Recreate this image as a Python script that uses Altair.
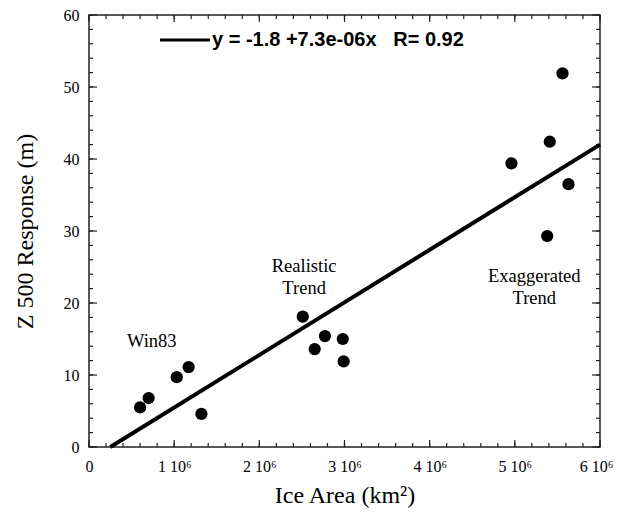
import altair as alt
import pandas as pd

# ---- data ----
ice_area = [0.60e6, 0.70e6, 1.03e6, 1.17e6, 1.32e6, 2.51e6, 2.65e6, 2.77e6,
            2.98e6, 2.99e6, 4.96e6, 5.41e6, 5.56e6, 5.38e6, 5.63e6]
z500 = [5.5, 6.8, 9.7, 11.1, 4.6, 18.1, 13.6, 15.4,
        15.0, 11.9, 39.4, 42.4, 51.9, 29.3, 36.5]

fit_x = [0.25e6, 6.0e6]
fit_y = [0.0, 42.0]

x_label_values = [0, 1000000, 2000000, 3000000, 4000000, 5000000, 6000000]
x_minor_values = list(range(0, 6000001, 200000))
y_label_values = [0, 10, 20, 30, 40, 50, 60]
y_minor_values = list(range(0, 61, 2))

annot_text = ["Win83", "Realistic\nTrend", "Exaggerated\nTrend"]
annot_x = [0.737e6, 2.526e6, 5.228e6]
annot_y = [14.7, 25.1, 23.75]

legend_text = ["y = -1.8 +7.3e-06x\u00a0\u00a0\u00a0R= 0.92"]

# ---- layout ----
W, H = 511, 432
SERIF = "Liberation Serif"
FRAME = "#222"

df_pts = pd.DataFrame({"x": ice_area, "y": z500})
df_fit = pd.DataFrame({"x": fit_x, "y": fit_y})
df_ann = pd.DataFrame({"x": annot_x, "y": annot_y, "t": annot_text})
df_leg = pd.DataFrame({"t": legend_text})
df_xmaj = pd.DataFrame({"v": x_label_values})
df_xmin = pd.DataFrame({"v": x_minor_values})
df_ymaj = pd.DataFrame({"v": y_label_values})
df_ymin = pd.DataFrame({"v": y_minor_values})

xs = alt.Scale(domain=[0, 6000000], nice=False, zero=False)
ys = alt.Scale(domain=[0, 60], nice=False, zero=False)

points = alt.Chart(df_pts).mark_circle(size=150, color="black", opacity=1).encode(
    x=alt.X("x:Q", scale=xs, axis=alt.Axis(
        values=x_label_values, ticks=False, domain=False, grid=False,
        labelExpr="datum.value == 0 ? '0' : format(datum.value / 1000000, 'd') + ' 10⁶'",
        labelFont=SERIF, labelFontSize=16, labelColor="black", labelPadding=11,
        labelFlush=False, labelOverlap=False,
        labelOffset={"condition": {"test": "datum.value == 6000000", "value": -4}, "value": 0},
        title="Ice Area (km²)", titleFont=SERIF, titleFontSize=24,
        titleFontWeight="normal", titleColor="black", titlePadding=9)),
    y=alt.Y("y:Q", scale=ys, axis=alt.Axis(
        values=y_label_values, ticks=False, domain=False, grid=False,
        labelFont=SERIF, labelFontSize=16, labelColor="black", labelPadding=10,
        labelFlush=False, labelOverlap=False,
        title="Z 500 Response (m)", titleFont=SERIF, titleFontSize=24,
        titleFontWeight="normal", titleColor="black", titlePadding=26)),
)

fit = alt.Chart(df_fit).mark_line(color="black", strokeWidth=4).encode(
    x=alt.X("x:Q", scale=xs, axis=None),
    y=alt.Y("y:Q", scale=ys, axis=None),
)

annots = alt.Chart(df_ann).mark_text(
    font=SERIF, fontSize=18.5, lineBreak="\n", lineHeight=22, color="black",
    align="center", baseline="middle").encode(
    x=alt.X("x:Q", scale=xs, axis=None),
    y=alt.Y("y:Q", scale=ys, axis=None),
    text="t:N",
)

leg_line = alt.Chart(df_leg).mark_rule(color="black", strokeWidth=3).encode(
    x=alt.value(71), x2=alt.value(121), y=alt.value(25))

leg_text = alt.Chart(df_leg).mark_text(
    font="Liberation Sans", fontSize=20, fontWeight="bold", color="black",
    align="left", baseline="middle").encode(
    x=alt.value(123), y=alt.value(24.5), text="t:N")


def xticks(df, y0, y1):
    return alt.Chart(df).mark_rule(color=FRAME, strokeWidth=1.2).encode(
        x=alt.X("v:Q", scale=xs, axis=None), y=alt.value(y0), y2=alt.value(y1))


def yticks(df, x0, x1):
    return alt.Chart(df).mark_rule(color=FRAME, strokeWidth=1.2).encode(
        y=alt.Y("v:Q", scale=ys, axis=None), x=alt.value(x0), x2=alt.value(x1))


tick_layers = [
    xticks(df_xmin, H, H - 4), xticks(df_xmaj, H, H - 7),
    xticks(df_xmin, 0, 4), xticks(df_xmaj, 0, 7),
    yticks(df_ymin, 0, 4), yticks(df_ymaj, 0, 8),
    yticks(df_ymin, W, W - 4), yticks(df_ymaj, W, W - 8),
]

chart = alt.layer(
    points, *tick_layers, fit, annots, leg_line, leg_text,
).resolve_axis(
    x="independent", y="independent"
).properties(
    width=W, height=H,
    padding={"left": 81, "top": 7, "right": 14, "bottom": 61},
    autosize=alt.AutoSizeParams(type="none"),
).configure_view(stroke=FRAME, strokeWidth=1.5)

chart.save("out.html", embed_options={"renderer": "svg", "actions": False})
